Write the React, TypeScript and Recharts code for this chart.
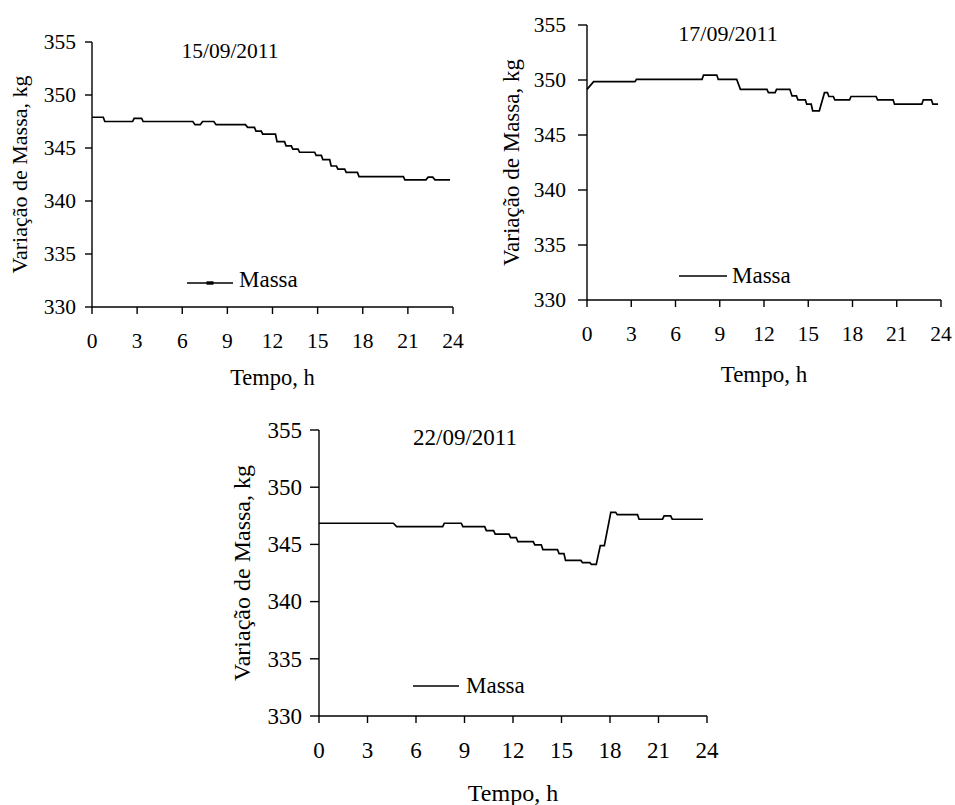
import { LineChart, Line, XAxis, YAxis, Legend, Label } from 'recharts';

const X_TICKS = [0, 3, 6, 9, 12, 15, 18, 21, 24];
const Y_TICKS = [330, 335, 340, 345, 350, 355];
const SERIES_NAME = 'Massa';
const X_LABEL = 'Tempo, h';
const Y_LABEL = 'Variação de Massa, kg';

// 15/09/2011 - vertices of the stepped mass trace (h, kg)
const hours15 = [
  0, 0.75, 0.85, 2.7, 2.8, 3.3, 3.4, 6.7, 6.85, 7.2, 7.35, 8.1, 8.25, 10.2, 10.35, 10.8,
  10.9, 11.25, 11.35, 12.2, 12.3, 12.8, 12.9, 13.25, 13.35, 13.7, 13.8, 14.8, 14.9, 15.25,
  15.35, 15.8, 15.9, 16.25, 16.35, 16.8, 16.9, 17.65, 17.75, 20.7, 20.8, 22.2, 22.35, 22.65,
  22.8, 23.8
];
const mass15 = [
  347.9, 347.9, 347.5, 347.5, 347.8, 347.8, 347.5, 347.5, 347.2, 347.2, 347.5, 347.5, 347.2,
  347.2, 346.95, 346.95, 346.6, 346.6, 346.3, 346.3, 345.6, 345.6, 345.2, 345.2, 344.9, 344.9,
  344.6, 344.6, 344.3, 344.3, 343.9, 343.9, 343.3, 343.3, 343.0, 343.0, 342.7, 342.7, 342.3,
  342.3, 342.0, 342.0, 342.25, 342.25, 342.0, 342.0
];

// 17/09/2011
const hours17 = [
  0, 0.45, 3.25, 3.35, 7.8, 7.9, 8.8, 8.9, 10.15, 10.4, 12.2, 12.3, 12.75, 12.85, 13.75, 13.9,
  14.2, 14.3, 14.8, 14.9, 15.2, 15.3, 15.75, 16.1, 16.3, 16.4, 16.7, 16.8, 17.8, 17.9, 19.6,
  19.7, 20.75, 20.85, 22.7, 22.8, 23.35, 23.45, 23.8
];
const mass17 = [
  349.15, 349.85, 349.85, 350.05, 350.05, 350.45, 350.45, 350.05, 350.05, 349.15, 349.15,
  348.85, 348.85, 349.15, 349.15, 348.55, 348.55, 348.2, 348.2, 347.8, 347.8, 347.2, 347.2,
  348.85, 348.85, 348.5, 348.5, 348.2, 348.2, 348.5, 348.5, 348.2, 348.2, 347.8, 347.8, 348.2,
  348.2, 347.8, 347.8
];

// 22/09/2011
const hours22 = [
  0, 4.6, 4.8, 7.65, 7.75, 8.8, 8.9, 10.25, 10.35, 10.8, 10.9, 11.75, 11.85, 12.2, 12.3, 13.25,
  13.35, 13.75, 13.85, 14.75, 14.85, 15.15, 15.25, 16.2, 16.3, 16.75, 16.85, 17.15, 17.4, 17.65,
  18.05, 18.35, 18.45, 19.7, 19.8, 21.25, 21.35, 21.75, 21.85, 23.75
];
const mass22 = [
  346.85, 346.85, 346.55, 346.55, 346.85, 346.85, 346.55, 346.55, 346.2, 346.2, 345.9, 345.9,
  345.6, 345.6, 345.25, 345.25, 344.95, 344.95, 344.55, 344.55, 344.2, 344.2, 343.6, 343.6,
  343.4, 343.4, 343.25, 343.25, 344.9, 344.9, 347.8, 347.8, 347.6, 347.6, 347.2, 347.2, 347.5,
  347.5, 347.2, 347.2
];

const FONT = '"Liberation Serif", "Times New Roman", Times, serif';

interface LegendCfg {
  x: number;
  y: number;
  lineWidth: number;
  lineY: number;
  gap: number;
  size: number;
  marker?: boolean;
}

interface PanelProps {
  title: string;
  hours: number[];
  mass: number[];
  left: number;
  top: number;
  width: number;
  height: number;
  margin: { top: number; right: number; bottom: number; left: number };
  yAxisWidth: number;
  xAxisHeight: number;
  yTickSize: number;
  yTickMargin: number;
  yLabelOffset: number;
  tickFont: number;
  xLabelFont: number;
  yLabelFont: number;
  titleBox: { x: number; y: number; size: number };
  legend: LegendCfg;
}

function Panel(p: PanelProps) {
  const data = p.hours.map((t, i) => ({ t, m: p.mass[i] }));

  const xTick = (props: any) => (
    <text
      x={props.x}
      y={props.y}
      dy="0.71em"
      textAnchor="middle"
      fill="#000"
      fontSize={p.tickFont}
      fontFamily={FONT}
    >
      {props.payload.value}
    </text>
  );
  const yTick = (props: any) => (
    <text
      x={props.x}
      y={props.y}
      dy="0.34em"
      textAnchor="end"
      fill="#000"
      fontSize={p.tickFont}
      fontFamily={FONT}
    >
      {props.payload.value}
    </text>
  );
  const yLabel = (props: any) => {
    const vb = props.viewBox || { x: 0, y: 0, height: 0 };
    const cx = vb.x + p.yLabelOffset;
    const cy = vb.y + vb.height / 2;
    return (
      <text
        x={cx}
        y={cy}
        dy="0.33em"
        transform={`rotate(-90, ${cx}, ${cy})`}
        textAnchor="middle"
        fill="#000"
        fontSize={p.yLabelFont}
        fontFamily={FONT}
      >
        {Y_LABEL}
      </text>
    );
  };
  const xLabel = (props: any) => {
    const vb = props.viewBox || { x: 0, y: 0, width: 0, height: 0 };
    return (
      <text
        x={vb.x + vb.width / 2}
        y={vb.y + vb.height}
        textAnchor="middle"
        fill="#000"
        fontSize={p.xLabelFont}
        fontFamily={FONT}
      >
        {X_LABEL}
      </text>
    );
  };

  const legendContent = () => (
    <div
      style={{
        position: 'relative',
        width: p.legend.gap + 75,
        height: p.legend.size,
        fontFamily: FONT,
        fontSize: p.legend.size,
        lineHeight: 1,
        color: '#000'
      }}
    >
      <svg
        width={p.legend.lineWidth}
        height={p.legend.size}
        style={{ position: 'absolute', left: 0, top: 0 }}
      >
        <line
          x1={0}
          x2={p.legend.lineWidth}
          y1={p.legend.lineY}
          y2={p.legend.lineY}
          stroke="#000"
          strokeWidth={1.5}
        />
        {p.legend.marker && (
          <rect x={p.legend.lineWidth / 2 - 3.5} y={p.legend.lineY - 1.7} width={7} height={3.4} fill="#000" />
        )}
      </svg>
      <span style={{ position: 'absolute', left: p.legend.gap, top: 0, whiteSpace: 'nowrap' }}>
        {SERIES_NAME}
      </span>
    </div>
  );

  return (
    <div style={{ position: 'absolute', left: p.left, top: p.top, width: p.width, height: p.height }}>
      <LineChart width={p.width} height={p.height} data={data} margin={p.margin}>
        <XAxis
          type="number"
          dataKey="t"
          domain={[0, 24]}
          ticks={X_TICKS}
          interval={0}
          height={p.xAxisHeight}
          tickSize={7}
          tickMargin={19}
          tick={xTick}
          axisLine={{ stroke: '#000', strokeWidth: 1.4 }}
          tickLine={{ stroke: '#000', strokeWidth: 1.4 }}
        >
          <Label content={xLabel} />
        </XAxis>
        <YAxis
          type="number"
          domain={[330, 355]}
          ticks={Y_TICKS}
          interval={0}
          width={p.yAxisWidth}
          tickSize={p.yTickSize}
          tickMargin={p.yTickMargin}
          tick={yTick}
          axisLine={{ stroke: '#000', strokeWidth: 1.4 }}
          tickLine={{ stroke: '#000', strokeWidth: 1.4 }}
        >
          <Label content={yLabel} />
        </YAxis>
        <Legend
          layout="horizontal"
          verticalAlign="middle"
          align="center"
          content={legendContent}
          wrapperStyle={{ left: p.legend.x, top: p.legend.y, width: 'auto', height: 'auto' }}
        />
        <Line
          type="linear"
          dataKey="m"
          name={SERIES_NAME}
          stroke="#000"
          strokeWidth={1.7}
          dot={false}
          activeDot={false}
          isAnimationActive={false}
        />
      </LineChart>
      <div
        style={{
          position: 'absolute',
          left: p.titleBox.x - 75,
          top: p.titleBox.y,
          width: 150,
          textAlign: 'center',
          fontSize: p.titleBox.size,
          lineHeight: 1,
          color: '#000'
        }}
      >
        {p.title}
      </div>
    </div>
  );
}

export default function App() {
  return (
    <div
      style={{
        position: 'absolute',
        left: 0,
        top: 0,
        width: 955,
        height: 805,
        background: '#fff',
        fontFamily: FONT,
        overflow: 'hidden'
      }}
    >
      <Panel
        title="15/09/2011"
        hours={hours15}
        mass={mass15}
        left={0}
        top={0}
        width={475}
        height={393}
        margin={{ top: 42, right: 22, bottom: 8, left: 0 }}
        yAxisWidth={92}
        xAxisHeight={78}
        yTickSize={7}
        yTickMargin={9}
        yLabelOffset={20}
        tickFont={21.5}
        xLabelFont={22.5}
        yLabelFont={22}
        titleBox={{ x: 230, y: 41, size: 21.5 }}
        legend={{ x: 187, y: 268, lineWidth: 46, lineY: 15, gap: 52, size: 23, marker: true }}
      />
      <Panel
        title="17/09/2011"
        hours={hours17}
        mass={mass17}
        left={490}
        top={0}
        width={465}
        height={390}
        margin={{ top: 25, right: 14, bottom: 8, left: 0 }}
        yAxisWidth={97}
        xAxisHeight={82}
        yTickSize={9}
        yTickMargin={12}
        yLabelOffset={21}
        tickFont={21.5}
        xLabelFont={23}
        yLabelFont={23}
        titleBox={{ x: 238, y: 22.5, size: 22 }}
        legend={{ x: 189, y: 264, lineWidth: 48, lineY: 12, gap: 53, size: 23 }}
      />
      <Panel
        title="22/09/2011"
        hours={hours22}
        mass={mass22}
        left={225}
        top={400}
        width={507}
        height={405}
        margin={{ top: 30, right: 25, bottom: 4, left: 0 }}
        yAxisWidth={94}
        xAxisHeight={85}
        yTickSize={9}
        yTickMargin={8}
        yLabelOffset={17}
        tickFont={23}
        xLabelFont={24}
        yLabelFont={24}
        titleBox={{ x: 240, y: 25.5, size: 23 }}
        legend={{ x: 188, y: 274, lineWidth: 46, lineY: 12, gap: 53, size: 23 }}
      />
    </div>
  );
}
